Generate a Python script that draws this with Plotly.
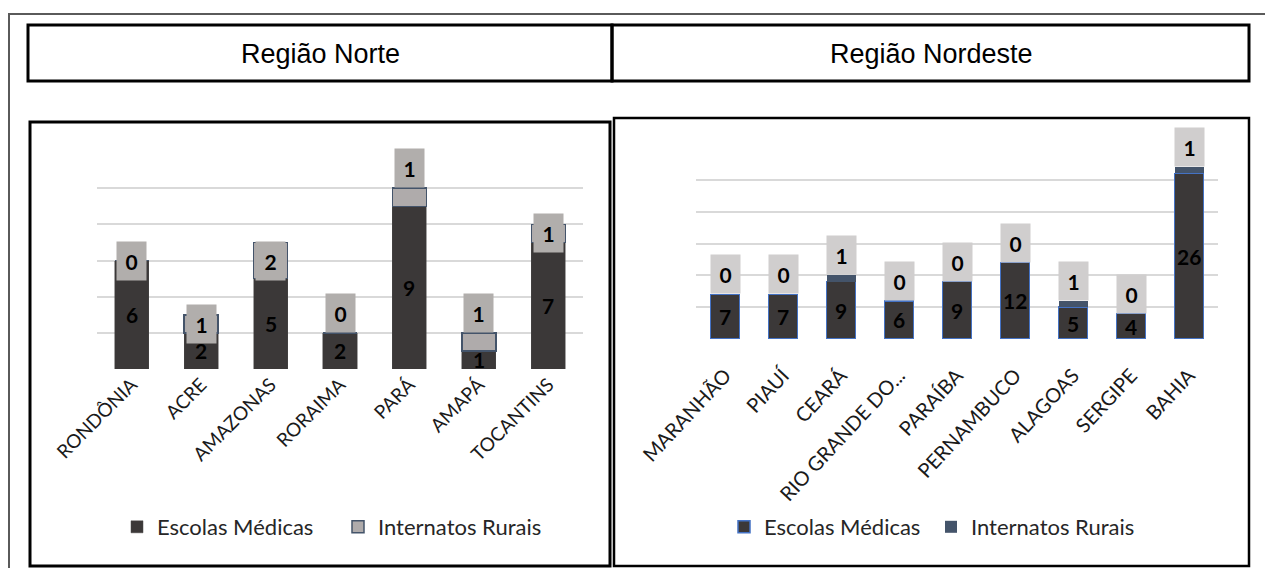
import plotly.graph_objects as go

# ---------------- data ----------------
series_names = ["Escolas Médicas", "Internatos Rurais"]
region_titles = ["Região Norte", "Região Nordeste"]

norte_estados = ["RONDÔNIA", "ACRE", "AMAZONAS", "RORAIMA", "PARÁ", "AMAPÁ", "TOCANTINS"]
norte_escolas = [6, 2, 5, 2, 9, 1, 7]
norte_internatos = [0, 1, 2, 0, 1, 1, 1]

nordeste_estados = ["MARANHÃO", "PIAUÍ", "CEARÁ", "RIO GRANDE DO NORTE", "PARAÍBA",
                    "PERNAMBUCO", "ALAGOAS", "SERGIPE", "BAHIA"]
nordeste_rotulos = ["MARANHÃO", "PIAUÍ", "CEARÁ", "RIO GRANDE DO...", "PARAÍBA",
                    "PERNAMBUCO", "ALAGOAS", "SERGIPE", "BAHIA"]
nordeste_escolas = [7, 7, 9, 6, 9, 12, 5, 4, 26]
nordeste_internatos = [0, 0, 1, 0, 0, 0, 1, 0, 1]

# ---------------- layout helpers ----------------
W, H = 1265, 568


def px(x):
    return x / W


def py(y):
    return 1 - y / H


# placement of the grey label box for each Norte state: centred on its segment or sitting on top
norte_label_mode = ["centro", "centro", "centro", "acima", "acima", "acima", "centro"]

DARK = "#3b3838"
GREY_N = "#afabab"
GREY_N_LABEL = "#b1aeac"
GREY_NE_LABEL = "#d0cece"
SLATE = "#44546a"
BLUE = "#4472c4"
GRID = "#d9d9d9"
TXT = "#1a1a1a"
FONT = "Lato"

fig = go.Figure()

# Norte
fig.add_trace(go.Bar(
    x=norte_estados, y=norte_escolas, name=series_names[0], width=0.49,
    marker=dict(color=DARK, line=dict(color="#4a4848", width=0.5)),
    xaxis="x", yaxis="y", legend="legend", hoverinfo="x+y+name"))
fig.add_trace(go.Bar(
    x=norte_estados, y=norte_internatos, name=series_names[1], width=0.49,
    marker=dict(color=GREY_N, line=dict(color=SLATE, width=1.5)),
    xaxis="x", yaxis="y", legend="legend", hoverinfo="x+y+name"))

# Nordeste
fig.add_trace(go.Bar(
    x=nordeste_estados, y=nordeste_escolas, name=series_names[0], width=0.5,
    marker=dict(color=DARK, line=dict(color=BLUE, width=1.5)),
    xaxis="x2", yaxis="y2", legend="legend2", hoverinfo="x+y+name"))
fig.add_trace(go.Bar(
    x=nordeste_estados, y=nordeste_internatos, name=series_names[1], width=0.5,
    marker=dict(color=SLATE, line=dict(width=0)),
    xaxis="x2", yaxis="y2", legend="legend2", hoverinfo="x+y+name"))

annotations = []
label_font = dict(family=FONT, size=21, color="#000000")


def bold(v):
    return f"<b>{v}</b>"


# value labels inside the dark bars
for estado, v in zip(norte_estados, norte_escolas):
    annotations.append(dict(x=estado, y=v / 2, xref="x", yref="y", text=bold(v),
                            showarrow=False, font=label_font))
for estado, v in zip(nordeste_estados, nordeste_escolas):
    annotations.append(dict(x=estado, y=v / 2, xref="x2", yref="y2", text=bold(v),
                            showarrow=False, font=label_font))

# grey boxes with the Internatos Rurais values
for estado, e, n, mode in zip(norte_estados, norte_escolas, norte_internatos, norte_label_mode):
    if mode == "centro":
        y, anchor = e + n / 2, "middle"
    else:
        y, anchor = e + n, "bottom"
    annotations.append(dict(x=estado, y=y, xref="x", yref="y", yanchor=anchor,
                            text=bold(n), showarrow=False, font=label_font,
                            bgcolor=GREY_N_LABEL, width=29, height=38, borderpad=0))
for estado, e, n in zip(nordeste_estados, nordeste_escolas, nordeste_internatos):
    annotations.append(dict(x=estado, y=e + n, xref="x2", yref="y2", yanchor="bottom",
                            text=bold(n), showarrow=False, font=label_font,
                            bgcolor=GREY_NE_LABEL, width=29, height=38, borderpad=0))

# region headers
title_font = dict(family="Liberation Sans", size=27, color="#000000")
annotations.append(dict(x=px(320), y=py(54), xref="paper", yref="paper", text=region_titles[0],
                        xanchor="center", yanchor="middle", showarrow=False, font=title_font))
annotations.append(dict(x=px(931), y=py(54), xref="paper", yref="paper", text=region_titles[1],
                        xanchor="center", yanchor="middle", showarrow=False, font=title_font))

shapes = [
    # outer frame (top and left edges)
    dict(type="path", path=f"M {px(9)},{py(568)} L {px(9)},{py(14)} L 1,{py(14)}",
         xref="paper", yref="paper", line=dict(color="#5a5a5a", width=2)),
    # header boxes
    dict(type="rect", x0=px(28), x1=px(612), y0=py(25), y1=py(81), xref="paper", yref="paper",
         line=dict(color="#000000", width=3)),
    dict(type="rect", x0=px(612), x1=px(1249), y0=py(25), y1=py(81), xref="paper", yref="paper",
         line=dict(color="#000000", width=3)),
    # chart frames
    dict(type="rect", x0=px(30), x1=px(610), y0=py(122), y1=py(566), xref="paper", yref="paper",
         line=dict(color="#000000", width=3)),
    dict(type="rect", x0=px(614), x1=px(1249), y0=py(118), y1=py(566), xref="paper", yref="paper",
         line=dict(color="#000000", width=2.5)),
]

tick_font_n = dict(family=FONT, size=19, color=TXT)
tick_font_ne = dict(family=FONT, size=20, color=TXT)
legend_font = dict(family=FONT, size=22, color="#262626")

fig.update_layout(
    width=W, height=H, autosize=False,
    margin=dict(l=0, r=0, t=0, b=0, pad=0, autoexpand=False),
    paper_bgcolor="#ffffff", plot_bgcolor="#ffffff",
    barmode="stack",
    showlegend=True,
    xaxis=dict(domain=[px(97), px(583)], range=[-0.5, 6.5], tickangle=-45, tickfont=tick_font_n,
               showgrid=False, showline=False, ticks="", anchor="y", fixedrange=True,
               automargin=False),
    yaxis=dict(domain=[py(369), py(152)], range=[0, 12], dtick=2, showticklabels=False,
               showgrid=True, gridcolor=GRID, gridwidth=1.5, zeroline=False, anchor="x",
               fixedrange=True, automargin=False),
    xaxis2=dict(domain=[px(696), px(1218)], range=[-0.5, 8.5], tickangle=-47, tickfont=tick_font_ne,
                tickmode="array", tickvals=nordeste_estados, ticktext=nordeste_rotulos,
                ticklabelstandoff=20,
                showgrid=False, showline=False, ticks="", anchor="y2", fixedrange=True,
                automargin=False),
    yaxis2=dict(domain=[py(339), py(148)], range=[0, 30], dtick=5, showticklabels=False,
                showgrid=True, gridcolor=GRID, gridwidth=1.5, zeroline=False, anchor="x2",
                fixedrange=True, automargin=False),
    legend=dict(orientation="h", x=px(117), y=py(527), xanchor="left", yanchor="middle",
                entrywidth=176, entrywidthmode="pixels",
                font=legend_font, bgcolor="rgba(0,0,0,0)", traceorder="normal"),
    legend2=dict(orientation="h", x=px(724), y=py(527), xanchor="left", yanchor="middle",
                 entrywidth=162, entrywidthmode="pixels",
                 font=legend_font, bgcolor="rgba(0,0,0,0)", traceorder="normal"),
    annotations=annotations,
    shapes=shapes,
)

fig.write_html("out.html")
